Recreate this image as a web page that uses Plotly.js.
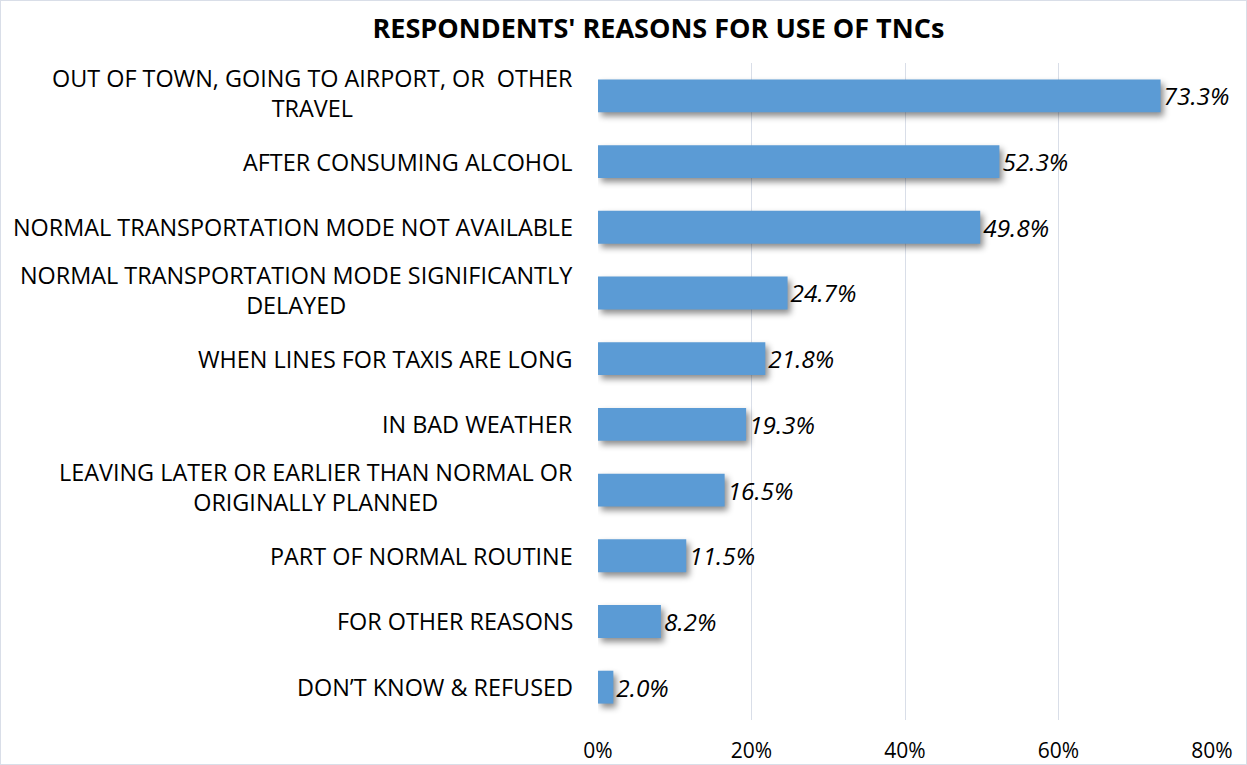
<!DOCTYPE html>
<html>
<head>
<meta charset="utf-8">
<script src="https://cdn.plot.ly/plotly-3.0.1.min.js"></script>
<style>
  html, body { margin: 0; padding: 0; background: #fff; }
  #wrap { position: relative; width: 1247px; height: 765px; }
  #chart { width: 1247px; height: 765px; }
  #frame { position: absolute; left: 0; top: 0; width: 1245px; height: 763px; border: 1px solid #d9dee8; pointer-events: none; }
  .barlayer .point path { filter: drop-shadow(3px 4px 3px rgba(0,0,0,0.45)); }
</style>
</head>
<body>
<div id="wrap">
  <div id="chart"></div>
  <div id="frame"></div>
</div>
<script>
const categories = [
  "OUT OF TOWN, GOING TO AIRPORT, OR  OTHER<br>TRAVEL",
  "AFTER CONSUMING ALCOHOL",
  "NORMAL TRANSPORTATION MODE NOT AVAILABLE",
  "NORMAL TRANSPORTATION MODE SIGNIFICANTLY<br>DELAYED",
  "WHEN LINES FOR TAXIS ARE LONG",
  "IN BAD WEATHER",
  "LEAVING LATER OR EARLIER THAN NORMAL OR<br>ORIGINALLY PLANNED",
  "PART OF NORMAL ROUTINE",
  "FOR OTHER REASONS",
  "DON\u2019T KNOW & REFUSED"
];
const values = [73.3, 52.3, 49.8, 24.7, 21.8, 19.3, 16.5, 11.5, 8.2, 2.0];
const tickValues = [0, 20, 40, 60, 80];
const tickLabels = ["0%", "20%", "40%", "60%", "80%"];
const chartTitle = "RESPONDENTS' REASONS FOR USE OF TNCs";

const FONT = "Open Sans, Liberation Sans, sans-serif";

const trace = {
  type: "bar",
  orientation: "h",
  x: values,
  y: categories.map((c, i) => i),
  marker: { color: "#5b9bd5" },
  width: 0.5,
  text: values.map(v => v.toFixed(1) + "%"),
  textposition: "outside",
  textfont: { family: FONT, size: 24.5, color: "#000", style: "italic" },
  cliponaxis: false,
  hoverinfo: "none"
};

const annotations = categories.map((c, i) => ({
  xref: "paper", yref: "y",
  x: 0, y: i,
  xanchor: "right", yanchor: "middle",
  xshift: -23,
  yshift: c.indexOf("<br>") >= 0 ? 3 : 0,
  align: "center",
  text: c,
  showarrow: false,
  font: { family: FONT, size: 23.4, color: "#000" }
}));

const layout = {
  width: 1247, height: 765,
  margin: { l: 598, r: 35, t: 63, b: 45 },
  paper_bgcolor: "#fff",
  plot_bgcolor: "#fff",
  title: {
    text: "<b>" + chartTitle + "</b>",
    x: 0.528, xanchor: "center",
    y: 0.963, yanchor: "middle",
    font: { family: FONT, size: 27, color: "#000" }
  },
  xaxis: {
    range: [0, 80],
    tickvals: tickValues,
    ticktext: tickLabels,
    showgrid: true,
    gridcolor: "#d9dee8",
    gridwidth: 1,
    zeroline: false,
    showline: false,
    ticks: "",
    ticklabelstandoff: 16,
    tickfont: { family: FONT, size: 21, color: "#000" },
    fixedrange: true
  },
  yaxis: {
    range: [9.5, -0.5],
    showticklabels: false,
    showgrid: false,
    zeroline: false,
    ticks: "",
    fixedrange: true
  },
  annotations: annotations,
  showlegend: false
};

Plotly.newPlot("chart", [trace], layout, { displayModeBar: false, staticPlot: true });
</script>
</body>
</html>
